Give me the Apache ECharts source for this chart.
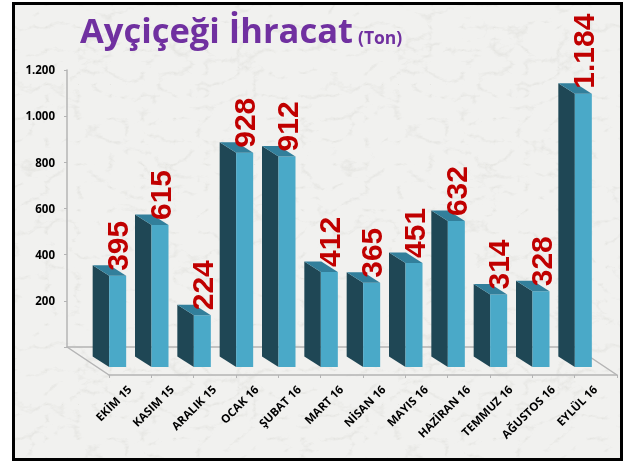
<!DOCTYPE html>
<html><head><meta charset="utf-8">
<style>
html,body{margin:0;padding:0;background:#fff;width:623px;height:461px;overflow:hidden}
#frame{position:absolute;left:12px;top:2px;width:605px;height:453px;border:3px solid #000;
background-color:#f1f1ef;
background-image:url("data:image/svg+xml;utf8,<svg xmlns='http://www.w3.org/2000/svg' width='320' height='320'><filter id='n' x='0' y='0' width='100%' height='100%'><feTurbulence type='turbulence' baseFrequency='0.03 0.045' numOctaves='4' seed='11' stitchTiles='stitch'/><feColorMatrix type='matrix' values='0 0 0 0 0.72 0 0 0 0 0.72 0 0 0 0 0.69 -3.0 0 0 0 0.62'/></filter><rect width='320' height='320' filter='url(%23n)'/></svg>");}
#c{position:absolute;left:0;top:0;width:623px;height:461px}
</style></head><body>
<div id="frame"></div><div id="c"></div>
<script src="https://cdn.jsdelivr.net/npm/echarts@6/dist/echarts.min.js"></script>
<script>
const categories = ['EKİM 15','KASIM 15','ARALIK 15','OCAK 16','ŞUBAT 16','MART 16','NİSAN 16','MAYIS 16','HAZİRAN 16','TEMMUZ 16','AĞUSTOS 16','EYLÜL 16'];
const values = [395,615,224,928,912,412,365,451,632,314,328,1184];
const titleMain = 'Ayçiçeği İhracat';
const titleUnit = '(Ton)';
const thousands = v => String(v).replace(/\B(?=(\d{3})+$)/g,'.');
const chart = echarts.init(document.getElementById('c'), null, {renderer:'canvas', width:623, height:461});
const depthX = 42, depthY = 28;
const axisGray = '#b4b4b4';
function floor(params, api){
  const s = params.coordSys;
  const l = (x1,y1,x2,y2)=>({type:'line',shape:{x1,y1,x2,y2},style:{stroke:axisGray,lineWidth:1.5}});
  const b = s.y + s.height;
  return {type:'group',children:[
    l(s.x,b,s.x+depthX,b+depthY),
    l(s.x+s.width,b,s.x+s.width+depthX,b+depthY)
  ]};
}
function bar(params, api){
  const i = api.value(0), v = api.value(1);
  const t = api.coord([i,v]), o = api.coord([i,0]);
  const c = t[0], lift = 8;
  const xB = c-37.5, xM = c-21, xR = c-4, dy = 10.5;
  const yT = t[1]-lift, yB = o[1]-lift;
  const poly = (pts,fill,z)=>({type:'polygon',shape:{points:pts},style:{fill},z2:z});
  return {type:'group',children:[
    poly([[xB,yT-dy],[xM,yT],[xM,yB],[xB,yB-dy]],'#1f4755',1),
    poly([[xM,yT],[xR,yT],[xR,yB],[xM,yB]],'#4aa9c8',2),
    poly([[xB,yT-dy],[xB+(xR-xM),yT-dy],[xR,yT],[xM,yT]],'#327f9b',3),
    {type:'text',x:(xM+xR)/2+2.5,y:yT-5,rotation:Math.PI/2,z2:50,
     style:{text:thousands(v),fill:'#c00000',fontWeight:'bold',fontSize:30,fontFamily:'"Liberation Sans"',align:'left',verticalAlign:'middle'}}
  ]};
}
chart.setOption({
  animation:false,
  title:{left:75,top:11,text:'{a|'+titleMain+'} {b|'+titleUnit+'}',
    textStyle:{rich:{
      a:{fontWeight:'bold',fontSize:34.5,fontFamily:'"Open Sans"',color:'#7030a0'},
      b:{fontWeight:'bold',fontSize:17.5,fontFamily:'"Open Sans"',color:'#7030a0',padding:[12,0,0,0]}
    }}},
  grid:[
    {left:67,top:70,width:508,height:277},
    {left:109,top:98,width:508,height:277}
  ],
  xAxis:[
    {type:'category',gridIndex:0,data:categories,axisLabel:{show:false},axisTick:{show:false},
     axisLine:{lineStyle:{color:axisGray,width:1.5}}},
    {type:'category',gridIndex:1,data:categories,
     axisLine:{lineStyle:{color:axisGray,width:1.5}},
     axisTick:{show:true,length:3,lineStyle:{color:axisGray}},
     axisLabel:{interval:0,rotate:45,margin:13,color:'#000',fontWeight:'bold',fontSize:11.5,fontFamily:'"Open Sans"'}}
  ],
  yAxis:[
    {type:'value',gridIndex:0,min:0,max:1200,interval:200,splitLine:{show:false},
     axisLine:{show:true,lineStyle:{color:axisGray,width:1.5}},
     axisTick:{show:true,length:3,lineStyle:{color:axisGray}},
     axisLabel:{margin:12,color:'#000',fontWeight:'bold',fontSize:11.5,fontFamily:'"Open Sans"',verticalAlign:'top',padding:[-5,0,0,0],
       formatter:v=>v===0?'':thousands(v)}},
    {type:'value',gridIndex:1,min:0,max:1200,interval:200,show:false}
  ],
  series:[
    {type:'custom',xAxisIndex:0,yAxisIndex:0,data:[[0,0]],renderItem:floor,silent:true,z:1},
    {type:'custom',xAxisIndex:1,yAxisIndex:1,data:values.map((v,i)=>[i,v]),encode:{x:0,y:1},renderItem:bar,z:5}
  ]
});
</script></body></html>
